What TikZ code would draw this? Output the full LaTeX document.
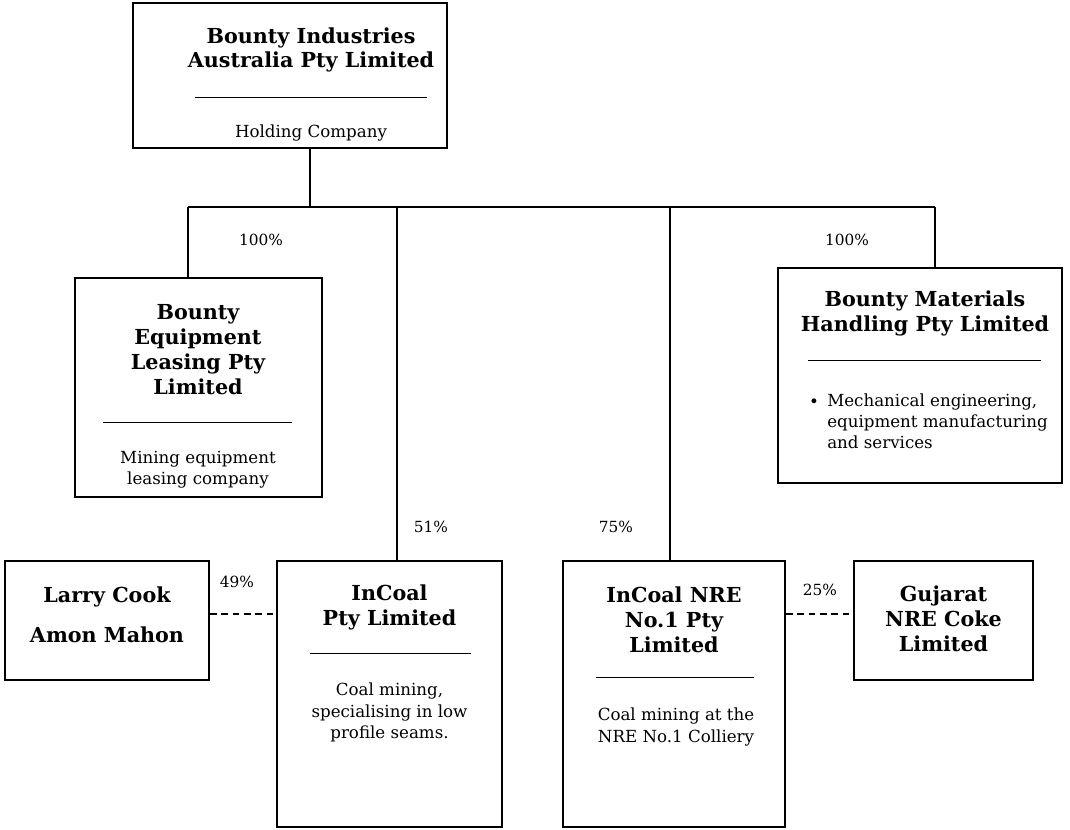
\documentclass[tikz,border=0pt]{standalone}
\usepackage{fontspec}
\setmainfont{DejaVu Serif}
\usetikzlibrary{fit}

\begin{document}
\begin{tikzpicture}[
    x=0.75pt, y=-0.75pt,
    orgBoxStyle/.style={draw, line width=1.4pt, inner sep=0pt, fill=white},
    orgLinkStyle/.style={line width=1.1pt},
    orgDashStyle/.style={line width=1.1pt, dash pattern=on 5pt off 3.5pt},
    orgRuleStyle/.style={line width=0.6pt},
    orgTitleStyle/.style={font=\bfseries\fontsize{15.5}{18.75}\selectfont, align=center, inner sep=0pt},
    orgTextStyle/.style={font=\fontsize{12.5}{15.5}\selectfont, align=center, inner sep=0pt},
    orgPctStyle/.style={font=\fontsize{11.5}{13}\selectfont, inner sep=0pt}
]
    \useasboundingbox (0,0) rectangle (1070,829);

    % boxes
    \node[orgBoxStyle, fit={(133,3) (447,148)}] (holdBox) {};
    \node[orgBoxStyle, fit={(75,278) (322,497)}] (leaseBox) {};
    \node[orgBoxStyle, fit={(778,268) (1062,483)}] (handleBox) {};
    \node[orgBoxStyle, fit={(5,561) (209,680)}] (ownerBox) {};
    \node[orgBoxStyle, fit={(277,561) (502,827)}] (coalBox) {};
    \node[orgBoxStyle, fit={(563,561) (785,827)}] (nreBox) {};
    \node[orgBoxStyle, fit={(854,561) (1033,680)}] (gujBox) {};

    % holding company
    \node[orgTitleStyle, font=\bfseries\fontsize{15.5}{18}\selectfont] (holdTitle) at (311,50) {Bounty Industries\\Australia Pty Limited};
    \draw[orgRuleStyle] (195,97) -- (427,97);
    \node[orgTextStyle, anchor=base] (holdText) at (311,137) {Holding Company};

    % equipment leasing
    \node[orgTitleStyle] (leaseTitle) at (198,350) {Bounty\\Equipment\\Leasing Pty\\Limited};
    \draw[orgRuleStyle] (103,422) -- (292,422);
    \node[orgTextStyle] (leaseText) at (198,470) {Mining equipment\\leasing company};

    % materials handling
    \node[orgTitleStyle] (handleTitle) at (925,313.5) {Bounty Materials\\Handling Pty Limited};
    \draw[orgRuleStyle] (808,360) -- (1041,360);
    \node[orgTextStyle, anchor=base] (handleDot) at (814,407) {\textbullet};
    \node[orgTextStyle, align=left, anchor=north west] (handleText) at (827,394)
        {Mechanical engineering,\\equipment manufacturing\\and services};

    % minority owners
    \node[orgTitleStyle, font=\bfseries\fontsize{15.5}{30}\selectfont] (ownerTitle) at (107,615) {Larry Cook\\Amon Mahon};

    % InCoal
    \node[orgTitleStyle] (coalTitle) at (389.5,607.5) {InCoal\\Pty Limited};
    \draw[orgRuleStyle] (310,653) -- (471,653);
    \node[orgTextStyle, font=\fontsize{12.5}{16}\selectfont] (coalText) at (389.5,712.5)
        {Coal mining,\\specialising in low\\profile seams.};

    % InCoal NRE
    \node[orgTitleStyle] (nreTitle) at (674,620) {InCoal NRE\\No.1 Pty\\Limited};
    \draw[orgRuleStyle] (596,677) -- (754,677);
    \node[orgTextStyle, font=\fontsize{12.5}{16}\selectfont] (nreText) at (676,727)
        {Coal mining at the\\NRE No.1 Colliery};

    % Gujarat
    \node[orgTitleStyle] (gujTitle) at (943.5,619) {Gujarat\\NRE Coke\\Limited};

    % bus and links
    \coordinate (busHold) at (310,207);
    \coordinate (busLeft) at (188,207);
    \coordinate (busCoal) at (397,207);
    \coordinate (busNre) at (670,207);
    \coordinate (busRight) at (935,207);
    \coordinate (dashLevel) at (0,614);
    \draw[orgLinkStyle] (holdBox.south -| busHold) -- (busHold);
    \draw[orgLinkStyle] (busLeft) -- (busRight);
    \draw[orgLinkStyle] (busLeft) -- (leaseBox.north -| busLeft);
    \draw[orgLinkStyle] (busCoal) -- (coalBox.north -| busCoal);
    \draw[orgLinkStyle] (busNre) -- (nreBox.north -| busNre);
    \draw[orgLinkStyle] (busRight) -- (handleBox.north -| busRight);
    \draw[orgDashStyle] (ownerBox.east |- dashLevel) -- (coalBox.west |- dashLevel);
    \draw[orgDashStyle] (nreBox.east |- dashLevel) -- (gujBox.west |- dashLevel);

    % shares
    \node[orgPctStyle] (pctLease) at (261,240) {100\%};
    \node[orgPctStyle] (pctHandle) at (847,240) {100\%};
    \node[orgPctStyle] (pctCoal) at (431,527) {51\%};
    \node[orgPctStyle] (pctNre) at (616,527) {75\%};
    \node[orgPctStyle] (pctOwner) at (237,582) {49\%};
    \node[orgPctStyle] (pctGuj) at (820,590) {25\%};
\end{tikzpicture}
\end{document}
